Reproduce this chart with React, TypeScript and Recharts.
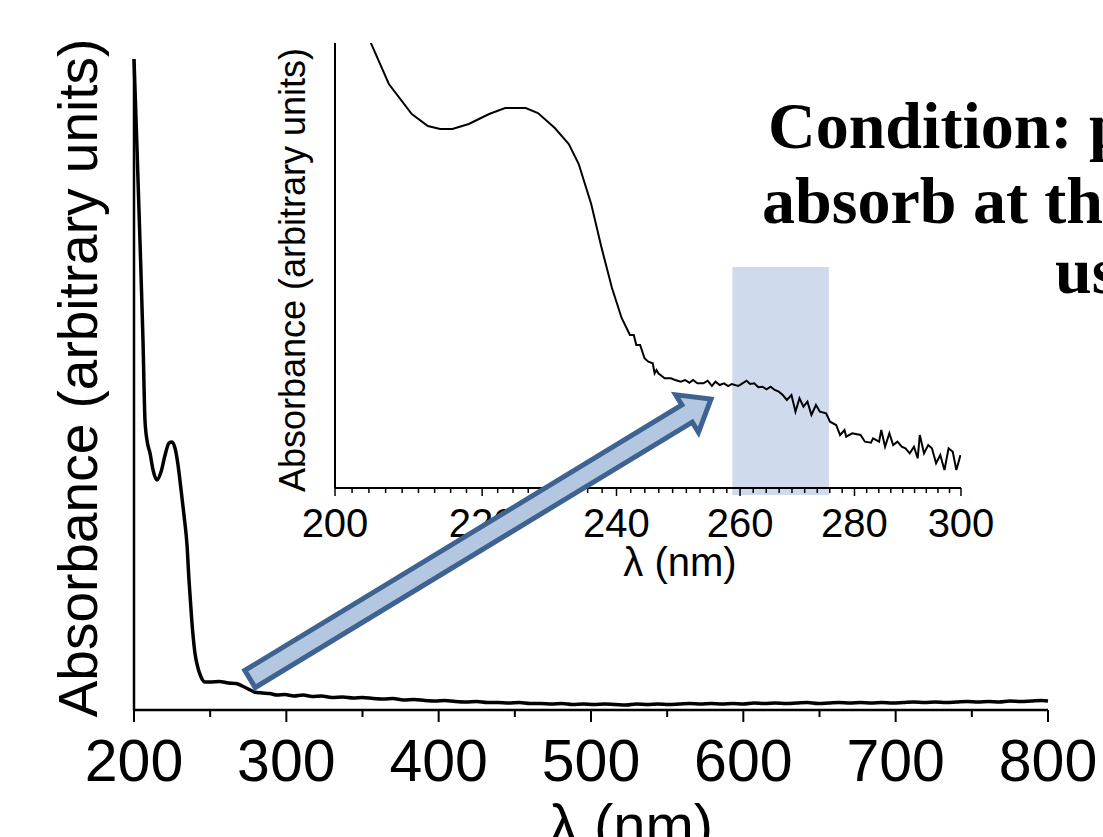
import { LineChart, Line, XAxis, YAxis, ReferenceArea } from "recharts";

// main spectrum, 200–800 nm (absorbance in arbitrary units)
const mainNm = [
  200, 202, 203.9, 205.9, 207.2, 208.5, 210.5, 212.5, 215.1, 217.7, 220.4, 223, 224.9, 226.9,
  228.9, 230.9, 232.8, 234.8, 236.1, 237.9, 240, 242, 244, 246.6, 250, 256, 262, 267, 271, 275,
  279, 284, 289, 294, 299, 305, 311, 317, 323, 330, 337, 344, 350, 357, 364, 370, 377, 384, 391,
  398, 404, 411, 418, 425, 432, 439, 446, 453, 460, 467, 474, 481, 488, 495, 502, 509, 516, 523,
  530, 537, 544, 551, 558, 565, 572, 579, 586, 593, 600, 607, 614, 621, 628, 635, 642, 649, 656,
  663, 670, 677, 684, 691, 698, 705, 712, 719, 726, 733, 740, 747, 754, 761, 768, 775, 782, 789,
  796, 800,
];
const mainAbs = [
  651, 560, 470, 370, 290, 270, 257, 240, 230, 238, 255, 267, 268, 262,
  245, 220, 195, 165, 130, 90, 57, 42, 33, 28, 28, 28.5, 27, 26.5, 24, 21,
  18, 17, 16.5, 15, 15.5, 14, 15, 13.5, 14, 12.5, 13, 12, 12.5, 11.5, 11, 11.5, 10, 10.5, 9.5,
  9, 9.5, 8.5, 8, 8.5, 7.5, 7.5, 7, 7.5, 6.5, 6.5, 6, 6.5, 5.5, 6, 5.5, 6, 5.5, 5,
  6, 5.5, 6, 5.5, 6, 6.5, 6, 6.5, 6, 6.5, 6, 7, 6.5, 7, 6.5, 7, 7.5, 6.5, 7,
  7.5, 7, 7.5, 7, 7.5, 7, 7.5, 8, 7.5, 8, 7.5, 8, 8.5, 8, 8.5, 8, 9, 8.5, 9,
  9.5, 9,
];

// zoomed spectrum, 200–300 nm
const insetNm = [
  200, 202, 204.7, 207.1, 210.2, 212.4, 214.1, 215.8, 218.1, 221, 223.3, 226.3, 228.1, 230.6,
  232.7, 234.2, 236.1, 237.7, 239.3, 240.8, 242.1, 242.7, 243.1, 243.7, 244.4, 245, 245.7, 246,
  246.3, 246.6, 247.6, 248.6, 249.3, 250.2, 250.9, 251.6, 252.2, 252.9, 253.9, 254.6, 255.3,
  255.9, 256.6, 257.3, 258, 258.6, 259.7, 260.4, 261.1, 261.7, 262.4, 263.1, 263.8, 264.5,
  265.2, 265.9, 266.6, 267.3, 268, 268.8, 269.5, 270.2, 270.9, 271.6, 272.3, 273.1, 273.8,
  274.9, 275.6, 276.7, 277.4, 278.2, 278.5, 279.6, 281.1, 281.9, 283, 283.4, 284.5, 284.9,
  285.6, 286.4, 287.1, 287.9, 288.7, 289.4, 290.2, 291, 291.7, 292.1, 292.9, 293.7, 294.4,
  295.2, 296, 296.8, 297.6, 298.4, 299.1, 299.9,
];
const insetAbs = [
  600, 525, 445, 404, 374, 362, 359, 359, 364, 374, 380, 380, 375, 360,
  344, 324, 284, 240, 200, 170, 153, 153, 143, 143, 129.7, 126.3, 124.7, 114.7,
  118, 114.7, 109.7, 109.7, 108, 106.3, 108, 105.3, 108, 104.7, 104.7, 107.3, 102,
  106.3, 103, 104.7, 102, 104, 102, 104.7, 107.3, 104, 104.7, 100.7, 101.3, 98.7,
  101.3, 98, 96.3, 93, 88, 93, 76.3, 89.7, 81.3, 86.3, 73, 83, 76.3,
  74.7, 66.3, 63, 53, 58, 51.3, 54.7, 53, 46.3, 45.3, 49.7, 46.3, 58,
  41.3, 54.7, 43, 46.3, 41.3, 39.7, 34.7, 41.3, 29.7, 53, 34.7, 43, 39.7,
  24.7, 33, 18, 39.7, 36.3, 18, 33,
];

const mainTicks = [200, 250, 300, 350, 400, 450, 500, 550, 600, 650, 700, 750, 800];
const mainMajorTicks = [200, 300, 400, 500, 600, 700, 800];
const insetMajorTicks = [200, 220, 240, 260, 280, 300];
const highlightBand = [258.7, 275.4];
const conditionLines = ["Condition: p", "absorb at th", "us"];

const mainData = mainNm.map((nm, i) => ({ nm, abs: mainAbs[i] }));
const insetData = insetNm.map((nm, i) => ({ nm, abs: insetAbs[i] }));

// 8 minor ticks between each pair of labelled ticks
const insetTicks: number[] = [];
insetMajorTicks.forEach((m, i) => {
  insetTicks.push(m);
  if (i < insetMajorTicks.length - 1) {
    for (let k = 1; k < 9; k++) insetTicks.push(m + (k * 20) / 9);
  }
});

const SANS = "'Liberation Sans', Arial, sans-serif";

function MainTick({ x, y, payload }: any) {
  const major = mainMajorTicks.includes(payload.value);
  return (
    <g>
      <line x1={x} x2={x} y1={y} y2={y + (major ? 12 : 7)} stroke="#000" strokeWidth={2} />
      {major && (
        <text x={x} y={y + 71} textAnchor="middle" fontSize={59} fontFamily={SANS} fill="#000">
          {payload.value}
        </text>
      )}
    </g>
  );
}

function InsetTick({ x, y, payload }: any) {
  const major = insetMajorTicks.some((m) => Math.abs(m - payload.value) < 0.01);
  return (
    <g>
      <line x1={x} x2={x} y1={y} y2={y + (major ? 8 : 5)} stroke="#000" strokeWidth={1.5} />
      {major && (
        <text x={x} y={y + 49} textAnchor="middle" fontSize={40} fontFamily={SANS} fill="#000">
          {Math.round(payload.value)}
        </text>
      )}
    </g>
  );
}

// block arrow from the main curve up to the inset
function arrowPoints(tail: [number, number], tip: [number, number], half: number, headHalf: number, headLen: number) {
  const dx = tip[0] - tail[0];
  const dy = tip[1] - tail[1];
  const len = Math.hypot(dx, dy);
  const ux = dx / len;
  const uy = dy / len;
  const px = -uy;
  const py = ux;
  const bx = tip[0] - ux * headLen;
  const by = tip[1] - uy * headLen;
  const pts = [
    [tail[0] + px * half, tail[1] + py * half],
    [bx + px * half, by + py * half],
    [bx + px * headHalf, by + py * headHalf],
    tip,
    [bx - px * headHalf, by - py * headHalf],
    [bx - px * half, by - py * half],
    [tail[0] - px * half, tail[1] - py * half],
  ];
  return pts.map((p) => p.join(",")).join(" ");
}

export default function App() {
  return (
    <div style={{ position: "absolute", left: 0, top: 0, width: 1103, height: 837, overflow: "hidden", background: "#fff" }}>
      <div style={{ position: "absolute", left: 0, top: 0 }}>
        <LineChart width={1103} height={837} data={mainData} margin={{ top: 59, right: 55, bottom: 126, left: 133 }}>
          <XAxis
            dataKey="nm"
            type="number"
            domain={[200, 800]}
            ticks={mainTicks}
            interval={0}
            height={1}
            tickSize={0}
            tickMargin={0}
            tickLine={false}
            axisLine={{ stroke: "#000", strokeWidth: 2.5 }}
            tick={<MainTick />}
          />
          <YAxis
            type="number"
            domain={[0, 651]}
            width={1}
            tick={false}
            tickLine={false}
            axisLine={{ stroke: "#000", strokeWidth: 2.5 }}
          />
          <Line type="monotone" dataKey="abs" stroke="#000" strokeWidth={3.5} dot={false} isAnimationActive={false} />
        </LineChart>
      </div>

      <div style={{ position: "absolute", left: 0, top: 0 }}>
        <LineChart width={1103} height={837} data={insetData} margin={{ top: 43, right: 142, bottom: 348, left: 334 }}>
          <ReferenceArea
            x1={highlightBand[0]}
            x2={highlightBand[1]}
            y1={-7}
            y2={221}
            fill="#cfdbec"
            fillOpacity={1}
            stroke="none"
            ifOverflow="visible"
          />
          <XAxis
            dataKey="nm"
            type="number"
            scale="log"
            domain={[200, 300]}
            allowDataOverflow
            ticks={insetTicks}
            interval={0}
            height={1}
            tickSize={0}
            tickMargin={0}
            tickLine={false}
            axisLine={{ stroke: "#000", strokeWidth: 2 }}
            tick={<InsetTick />}
          />
          <YAxis
            type="number"
            domain={[0, 445]}
            allowDataOverflow
            width={1}
            tick={false}
            tickLine={false}
            axisLine={{ stroke: "#000", strokeWidth: 2 }}
          />
          <Line type="linear" dataKey="abs" stroke="#000" strokeWidth={2} dot={false} isAnimationActive={false} />
        </LineChart>
      </div>

      <svg width={1103} height={837} style={{ position: "absolute", left: 0, top: 0, pointerEvents: "none" }}>
        <text transform="rotate(-90, 97, 378)" x={97} y={378} textAnchor="middle" fontSize={55} fontFamily={SANS}>
          Absorbance (arbitrary units)
        </text>
        <text x={631} y={845} textAnchor="middle" fontSize={58} fontFamily={SANS}>
          λ (nm)
        </text>
        <text transform="rotate(-90, 305, 270)" x={305} y={270} textAnchor="middle" fontSize={36} fontFamily={SANS}>
          Absorbance (arbitrary units)
        </text>
        <text x={680} y={576} textAnchor="middle" fontSize={40} fontFamily={SANS}>
          λ (nm)
        </text>
        <g fontFamily="'Liberation Serif', 'Times New Roman', serif" fontWeight="bold" fontSize={66} fill="#000">
          <text x={768} y={148}>{conditionLines[0]}</text>
          <text x={762} y={223}>{conditionLines[1]}</text>
          <text x={1055} y={293}>{conditionLines[2]}</text>
        </g>
        <polygon
          points={arrowPoints([250, 679], [711, 399], 10, 22, 28)}
          fill="#b4c7e1"
          stroke="#3e6391"
          strokeWidth={5}
          strokeLinejoin="miter"
        />
      </svg>
    </div>
  );
}
